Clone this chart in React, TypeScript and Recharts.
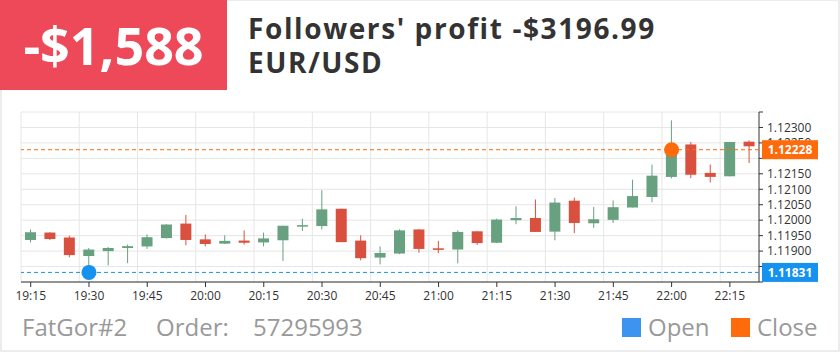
import React from 'react'
import {
  ComposedChart,
  Bar,
  XAxis,
  YAxis,
  CartesianGrid,
  ReferenceLine,
  ReferenceDot,
} from 'recharts'

const times = [
  '19:15', '19:20', '19:25', '19:30', '19:35', '19:40', '19:45', '19:50', '19:55',
  '20:00', '20:05', '20:10', '20:15', '20:20', '20:25', '20:30', '20:35', '20:40',
  '20:45', '20:50', '20:55', '21:00', '21:05', '21:10', '21:15', '21:20', '21:25',
  '21:30', '21:35', '21:40', '21:45', '21:50', '21:55', '22:00', '22:05', '22:10',
  '22:15', '22:20',
]

const opens = [
  1.11936, 1.1196, 1.11944, 1.11884, 1.119, 1.1191, 1.11915, 1.11942, 1.11989, 1.11938,
  1.11924, 1.11934, 1.11928, 1.11935, 1.11979, 1.11981, 1.12037, 1.11934, 1.11879, 1.11892,
  1.1197, 1.11909, 1.11905, 1.11964, 1.11927, 1.12, 1.12007, 1.11963, 1.12063, 1.1199,
  1.12001, 1.12041, 1.12075, 1.1214, 1.12245, 1.12153, 1.12142, 1.12254,
]
const closes = [
  1.11961, 1.11939, 1.11887, 1.11905, 1.1191, 1.11916, 1.11945, 1.11986, 1.11936, 1.11923,
  1.11933, 1.11927, 1.11941, 1.11982, 1.11984, 1.12035, 1.11929, 1.11877, 1.11894, 1.11967,
  1.11907, 1.11904, 1.11962, 1.11926, 1.12002, 1.12007, 1.11962, 1.12057, 1.11991, 1.12003,
  1.12042, 1.12078, 1.12144, 1.12228, 1.12147, 1.1214, 1.12253, 1.12239,
]
const highs = [
  1.1197, 1.11961, 1.1195, 1.1191, 1.11913, 1.11921, 1.11954, 1.11987, 1.12017, 1.11954,
  1.11951, 1.11967, 1.1196, 1.11982, 1.12005, 1.12097, 1.12037, 1.11951, 1.11915, 1.1197,
  1.11971, 1.11933, 1.11967, 1.11964, 1.12005, 1.12045, 1.12067, 1.12072, 1.12073, 1.12043,
  1.12064, 1.12131, 1.1218, 1.12323, 1.12253, 1.1218, 1.12253, 1.12258,
]
const lows = [
  1.11928, 1.11936, 1.1188, 1.11831, 1.11854, 1.11861, 1.11907, 1.11941, 1.11919, 1.11915,
  1.11923, 1.11921, 1.11915, 1.11868, 1.11965, 1.1197, 1.11929, 1.1187, 1.11857, 1.1189,
  1.11895, 1.11894, 1.1186, 1.1192, 1.11926, 1.11987, 1.11962, 1.11935, 1.11958, 1.11975,
  1.11991, 1.12041, 1.12058, 1.12135, 1.12136, 1.12122, 1.12142, 1.12185,
]

const xTicks = ['19:15', '19:30', '19:45', '20:00', '20:15', '20:30', '20:45', '21:00', '21:15', '21:30', '21:45', '22:00', '22:15']
const yTicks = [1.118, 1.1185, 1.119, 1.1195, 1.12, 1.1205, 1.121, 1.1215, 1.122, 1.1225, 1.123, 1.1235]
// labels hidden: the domain ends plus the two that sit under the price badges
const yHidden = [1.118, 1.1185, 1.122, 1.1235]

const openTime = '19:30'
const openPrice = 1.11831
const closeTime = '22:00'
const closePrice = 1.12228

const GREEN = '#68a180'
const RED = '#d9503f'
const BLUE = '#1592f0'
const ORANGE = '#ff6a0a'

const data = times.map((time, i) => ({
  time,
  open: opens[i],
  close: closes[i],
  high: highs[i],
  low: lows[i],
}))

function Candle(props: any) {
  const { x, y, width, height, payload } = props
  if (!payload) return null
  const { open, close, high, low } = payload
  const color = close >= open ? GREEN : RED
  const top = Math.min(y, y + height)
  const h = Math.abs(height)
  const ratio = high === low ? 0 : h / (high - low)
  const bodyTop = top + (high - Math.max(open, close)) * ratio
  const bodyH = Math.max(1, Math.abs(open - close) * ratio)
  const cx = x + width / 2
  return (
    <g>
      <line x1={cx} x2={cx} y1={top} y2={top + h} stroke={color} strokeWidth={1} />
      <rect x={x} y={bodyTop} width={width} height={bodyH} fill={color} />
    </g>
  )
}

function Badge(props: any) {
  const { viewBox, value, color } = props
  if (!viewBox) return null
  const bx = viewBox.x + viewBox.width + 3
  return (
    <g>
      <rect x={bx} y={viewBox.y - 9.5} width={56} height={19} fill={color} />
      <text
        x={bx + 28}
        y={viewBox.y}
        dy="0.35em"
        textAnchor="middle"
        fill="#fff"
        fontSize={12}
        fontWeight="bold"
      >
        {value.toFixed(5)}
      </text>
    </g>
  )
}

const gridX = ({ offset }: any) =>
  xTicks.map((t) => offset.left + (offset.width * times.indexOf(t)) / times.length)

export default function App() {
  return (
    <div
      style={{
        position: 'absolute',
        left: 0,
        top: 0,
        width: 840,
        height: 352,
        background: '#fff',
        fontFamily: '"Open Sans", sans-serif',
        overflow: 'hidden',
      }}
    >
      <div
        style={{
          position: 'absolute',
          inset: 0,
          border: '2px solid #ececec',
          borderTopWidth: 1,
          boxSizing: 'border-box',
        }}
      />
      <div
        style={{
          position: 'absolute',
          left: 0,
          top: 0,
          width: 227,
          height: 90,
          background: '#ee4958',
          color: '#fff',
          fontWeight: 700,
          fontSize: 52,
          lineHeight: '90px',
          textAlign: 'center',
        }}
      >
        -$1,588
      </div>
      <div
        style={{
          position: 'absolute',
          left: 248,
          top: 11,
          color: '#333',
          fontWeight: 700,
          fontSize: 28,
          letterSpacing: 1.6,
          lineHeight: '34px',
          whiteSpace: 'nowrap',
        }}
      >
        <div>Followers' profit -$3196.99</div>
        <div>EUR/USD</div>
      </div>

      <div style={{ position: 'absolute', left: 0, top: 100 }}>
        <ComposedChart
          width={840}
          height={220}
          data={data}
          margin={{ top: 12, right: 0, left: 21, bottom: 0 }}
        >
          <CartesianGrid stroke="#e6e6e6" verticalCoordinatesGenerator={gridX} />
          <XAxis
            dataKey="time"
            ticks={xTicks}
            interval={0}
            height={38}
            tick={{ fill: '#333', fontSize: 12 }}
            tickSize={5}
            tickMargin={4}
            axisLine={{ stroke: '#333' }}
            tickLine={{ stroke: '#333' }}
          />
          <YAxis
            orientation="right"
            width={81}
            domain={[yTicks[0], yTicks[yTicks.length - 1]]}
            ticks={yTicks}
            allowDataOverflow
            interval={0}
            tick={{ fill: '#333', fontSize: 12 }}
            tickFormatter={(v: number) => (yHidden.includes(v) ? '' : v.toFixed(5))}
            tickSize={4}
            tickMargin={4}
            axisLine={{ stroke: '#333' }}
            tickLine={{ stroke: '#333' }}
          />
          <Bar
            dataKey={(d: any) => [d.low, d.high]}
            barSize={11}
            shape={<Candle />}
            isAnimationActive={false}
          />
          <ReferenceLine
            y={closePrice}
            stroke={ORANGE}
            strokeDasharray="4 3"
            zIndex={2000}
            label={<Badge value={closePrice} color={ORANGE} />}
          />
          <ReferenceLine
            y={openPrice}
            stroke={BLUE}
            strokeDasharray="4 3"
            zIndex={2000}
            label={<Badge value={openPrice} color={BLUE} />}
          />
          <ReferenceDot x={openTime} y={openPrice} r={7.5} fill={BLUE} stroke="none" />
          <ReferenceDot x={closeTime} y={closePrice} r={7.5} fill={ORANGE} stroke="none" />
        </ComposedChart>
      </div>

      <div style={{ position: 'absolute', top: 311, left: 0, fontSize: 24, lineHeight: '32px', color: '#999' }}>
        <span style={{ position: 'absolute', left: 22, whiteSpace: 'nowrap' }}>FatGor#2</span>
        <span style={{ position: 'absolute', left: 156, whiteSpace: 'nowrap' }}>Order:</span>
        <span style={{ position: 'absolute', left: 253, whiteSpace: 'nowrap' }}>57295993</span>
        <span style={{ position: 'absolute', left: 622, top: 7, width: 19, height: 19, background: '#3d93f0' }} />
        <span style={{ position: 'absolute', left: 648, whiteSpace: 'nowrap' }}>Open</span>
        <span style={{ position: 'absolute', left: 731, top: 7, width: 19, height: 19, background: ORANGE }} />
        <span style={{ position: 'absolute', left: 757, whiteSpace: 'nowrap' }}>Close</span>
      </div>
    </div>
  )
}
